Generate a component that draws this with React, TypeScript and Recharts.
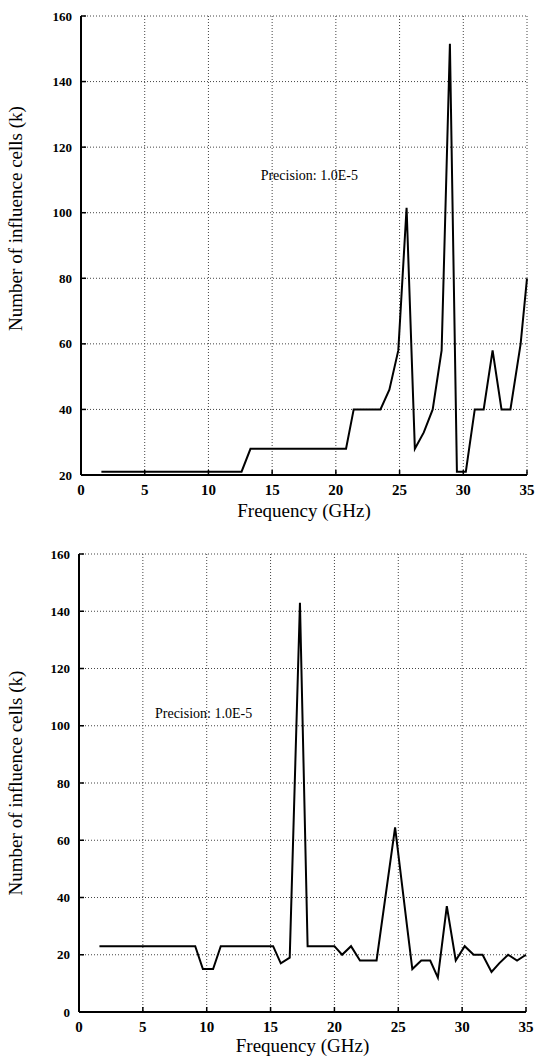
import React from 'react';
import { LineChart, Line, XAxis, YAxis, CartesianGrid, ReferenceDot, Label } from 'recharts';

// Top panel
const freqTop = [1.6, 12.6, 13.3, 20.8, 21.4, 23.5, 24.2, 24.9, 25.55, 26.2, 26.9, 27.6, 28.3, 28.95, 29.5, 30.2, 30.9, 31.6, 32.3, 33.0, 33.7, 34.5, 35.0];
const cellsTop = [21, 21, 28, 28, 40, 40, 46, 58, 101.5, 28, 33, 40, 58, 151.5, 21, 21, 40, 40, 58, 40, 40, 60, 80];

// Bottom panel
const freqBottom = [1.6, 9.1, 9.7, 10.5, 11.1, 15.2, 15.8, 16.5, 17.3, 17.9, 20.0, 20.6, 21.3, 22.0, 23.3, 24.75, 25.7, 26.1, 26.8, 27.5, 28.1, 28.8, 29.5, 30.2, 30.9, 31.6, 32.3, 32.9, 33.6, 34.3, 35.0];
const cellsBottom = [23, 23, 15, 15, 23, 23, 17, 19, 143, 23, 23, 20, 23, 18, 18, 64.5, 29.5, 15, 18, 18, 12, 37, 18, 23, 20, 20, 14, 17, 20, 18, 20];

const xTicks = [0, 5, 10, 15, 20, 25, 30, 35];
const yTicksTop = [20, 40, 60, 80, 100, 120, 140, 160];
const yTicksBottom = [0, 20, 40, 60, 80, 100, 120, 140, 160];

const xTitle = 'Frequency (GHz)';
const yTitle = 'Number of influence cells (k)';
const note = 'Precision: 1.0E-5';

const FONT = '"Liberation Serif", "Times New Roman", serif';

const topData = freqTop.map((f, i) => ({ f, v: cellsTop[i] }));
const bottomData = freqBottom.map((f, i) => ({ f, v: cellsBottom[i] }));

function makeYLabel(shift: number) {
  return (props: any) => {
    const vb = props.viewBox || {};
    const cx = 15;
    const cy = (vb.y || 0) + (vb.height || 0) / 2 + shift;
    return (
      <text
        x={cx}
        y={cy}
        transform={`rotate(-90 ${cx} ${cy})`}
        textAnchor="middle"
        dominantBaseline="central"
        fontFamily={FONT}
        fontSize={19}
        fill="#000"
      >
        {yTitle}
      </text>
    );
  };
}

type PanelProps = {
  data: { f: number; v: number }[];
  yTicks: number[];
  yDomain: [number, number];
  height: number;
  margin: { top: number; right: number; left: number; bottom: number };
  yWidth: number;
  xHeight: number;
  xLabelOffset: number;
  yLabelShift: number;
  noteX: number;
  noteY: number;
};

function Panel(p: PanelProps) {
  const tickX = { fontFamily: FONT, fontSize: 15, fontWeight: 700, fill: '#000' };
  const tickY = { fontFamily: FONT, fontSize: 13, fontWeight: 700, fill: '#000' };
  const axisLine = { stroke: '#000', strokeWidth: 2 };
  const tickLine = { stroke: '#000', strokeWidth: 1.5 };
  return (
    <LineChart width={536} height={p.height} data={p.data} margin={p.margin}>
      <CartesianGrid stroke="#444" strokeDasharray="1 2" strokeWidth={1} />
      <XAxis
        dataKey="f"
        type="number"
        domain={[0, 35]}
        ticks={xTicks}
        interval={0}
        height={p.xHeight}
        tick={tickX}
        axisLine={axisLine}
        tickLine={tickLine}
        tickSize={-5}
        tickMargin={14}
      >
        <Label
          value={xTitle}
          position="insideBottom"
          offset={p.xLabelOffset}
          style={{ fontFamily: FONT, fontSize: 19, fill: '#000' }}
        />
      </XAxis>
      <XAxis
        xAxisId="top"
        orientation="top"
        dataKey="f"
        type="number"
        domain={[0, 35]}
        ticks={xTicks}
        interval={0}
        height={0}
        tickFormatter={() => ''}
        axisLine={axisLine}
        tickLine={tickLine}
        tickSize={-5}
      />
      <YAxis
        type="number"
        domain={p.yDomain}
        ticks={p.yTicks}
        interval={0}
        width={p.yWidth}
        tick={tickY}
        axisLine={axisLine}
        tickLine={tickLine}
        tickSize={-5}
        tickMargin={14}
        label={{ content: makeYLabel(p.yLabelShift) } as any}
      />
      <YAxis
        yAxisId="right"
        orientation="right"
        type="number"
        domain={p.yDomain}
        ticks={p.yTicks}
        interval={0}
        width={0}
        tickFormatter={() => ''}
        axisLine={axisLine}
        tickLine={tickLine}
        tickSize={-5}
      />
      <ReferenceDot
        x={p.noteX}
        y={p.noteY}
        r={0}
        fill="none"
        stroke="none"
        label={{
          value: note,
          position: 'right',
          offset: 0,
          style: { fontFamily: FONT, fontSize: 14, fill: '#000' },
        }}
      />
      <Line
        type="linear"
        dataKey="v"
        stroke="#000"
        strokeWidth={2}
        dot={false}
        isAnimationActive={false}
      />
    </LineChart>
  );
}

export default function App() {
  return (
    <div
      style={{
        position: 'absolute',
        left: 0,
        top: 0,
        width: 536,
        height: 1059,
        overflow: 'hidden',
        background: '#fff',
      }}
    >
      <div style={{ position: 'absolute', left: 0, top: 0 }}>
        <Panel
          data={topData}
          yTicks={yTicksTop}
          yDomain={[20, 160]}
          height={528}
          margin={{ top: 16, right: 9, left: 0, bottom: 0 }}
          yWidth={81}
          xHeight={53}
          xLabelOffset={11}
          yLabelShift={-27}
          noteX={14.1}
          noteY={111.5}
        />
      </div>
      <div style={{ position: 'absolute', left: 0, top: 528 }}>
        <Panel
          data={bottomData}
          yTicks={yTicksBottom}
          yDomain={[0, 160]}
          height={531}
          margin={{ top: 26, right: 10, left: 0, bottom: 0 }}
          yWidth={79}
          xHeight={47}
          xLabelOffset={7}
          yLabelShift={0}
          noteX={5.95}
          noteY={104.5}
        />
      </div>
    </div>
  );
}
